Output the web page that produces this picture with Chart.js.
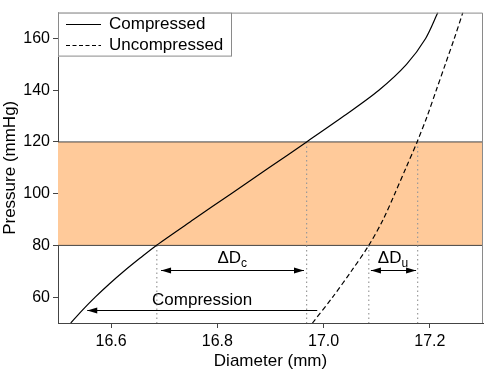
<!DOCTYPE html>
<html>
<head>
<meta charset="utf-8">
<script src="https://cdn.jsdelivr.net/npm/chart.js@4/dist/chart.umd.min.js"></script>
<style>
  html, body { margin: 0; padding: 0; background: #fff; }
  #c { display: block; }
</style>
</head>
<body>
<canvas id="c" width="484" height="374" style="width:484px;height:374px"></canvas>
<script>
// ---- data ----
const compressedP = [50, 55, 60, 65, 70, 75, 80, 90, 100, 110, 120, 130, 140, 150, 160, 170];
const compressedD = [16.524, 16.546, 16.570, 16.596, 16.624, 16.654, 16.685, 16.755, 16.826, 16.897, 16.968, 17.038, 17.104, 17.156, 17.192, 17.215];
const uncompressedP = [50, 60, 70, 80, 90, 100, 110, 120, 130, 140, 150, 160, 170];
const uncompressedD = [16.979, 17.017, 17.052, 17.085, 17.112, 17.134, 17.155, 17.176, 17.195, 17.212, 17.229, 17.246, 17.262];

const xTicks = [16.6, 16.8, 17.0, 17.2];
const yTicks = [60, 80, 100, 120, 140, 160];
const xRange = [16.5, 17.3];
const yRange = [50, 170];

const bandP = [80, 120];                       // normal pressure band
const dropX = [16.686, 16.968, 17.085, 17.177]; // dotted drop lines (diameters)
const dropTop = [80, 120, 80, 120];             // pressure where each drop line starts

// arrows: from diameter, to diameter, pressure, double-headed?
const arrowFrom = [16.694, 17.089, 16.988];
const arrowTo   = [16.963, 17.174, 16.555];
const arrowP    = [70.5, 70.5, 55];
const arrowBoth = [true, true, false];

// labels
const labelMain = ['ΔD', 'ΔD', 'Compression'];
const labelSub  = ['c', 'u', ''];
const labelX    = [16.800, 17.102, 16.677];
const labelP    = [73.1, 73.1, 57.0];

const seriesNames = ['Compressed', 'Uncompressed'];

const FONT = "'Liberation Sans', Arial, Helvetica, sans-serif";
Chart.defaults.font.family = FONT;
Chart.defaults.color = '#000';

const toPts = (xs, ys) => xs.map((x, i) => ({x: x, y: ys[i]}));

const datasets = [
  { label: seriesNames[0], data: toPts(compressedD, compressedP), borderColor: '#000', borderWidth: 1.2, showLine: true, pointRadius: 0, tension: 0.3, fill: false },
  { label: seriesNames[1], data: toPts(uncompressedD, uncompressedP), borderColor: '#000', borderWidth: 1.2, borderDash: [5, 3], showLine: true, pointRadius: 0, tension: 0.3, fill: false },
];
dropX.forEach((x, i) => {
  datasets.push({ label: 'drop', data: [{x: x, y: dropTop[i]}, {x: x, y: yRange[0]}], borderColor: '#9a9a9a', borderWidth: 1.2, borderDash: [1.5, 3], showLine: true, pointRadius: 0, fill: false });
});
datasets.push({ label: 'bandLow', data: [{x: xRange[0], y: bandP[0]}, {x: xRange[1], y: bandP[0]}], borderColor: '#444', borderWidth: 1, showLine: true, pointRadius: 0, fill: false });
datasets.push({ label: 'bandHigh', data: [{x: xRange[0], y: bandP[1]}, {x: xRange[1], y: bandP[1]}], borderColor: '#444', borderWidth: 1, showLine: true, pointRadius: 0, fill: {value: bandP[0]}, backgroundColor: '#FFCA9A' });

const annotPlugin = {
  id: 'annot',
  afterDatasetsDraw(chart) {
    const ctx = chart.ctx;
    const xs = chart.scales.x, ys = chart.scales.y;
    const ca = chart.chartArea;
    ctx.save();
    // frame top/right
    ctx.strokeStyle = '#8a8a8a';
    ctx.lineWidth = 1;
    ctx.beginPath();
    ctx.moveTo(ca.left, ca.top + 0.5);
    ctx.lineTo(ca.right - 0.5, ca.top + 0.5);
    ctx.lineTo(ca.right - 0.5, ca.bottom);
    ctx.stroke();

    // arrows
    ctx.strokeStyle = '#000';
    ctx.fillStyle = '#000';
    ctx.lineWidth = 1;
    const head = (tx, ty, dir) => {
      ctx.beginPath();
      ctx.moveTo(tx, ty);
      ctx.lineTo(tx - dir * 10, ty - 3);
      ctx.lineTo(tx - dir * 10, ty + 3);
      ctx.closePath();
      ctx.fill();
    };
    arrowFrom.forEach((f, i) => {
      const x1 = xs.getPixelForValue(f), x2 = xs.getPixelForValue(arrowTo[i]);
      const y = Math.round(ys.getPixelForValue(arrowP[i])) + 0.5;
      ctx.beginPath();
      ctx.moveTo(x1, y); ctx.lineTo(x2, y); ctx.stroke();
      const dir = Math.sign(x2 - x1);
      head(x2, y, dir);
      if (arrowBoth[i]) head(x1, y, -dir);
    });

    // labels
    ctx.textBaseline = 'alphabetic';
    ctx.textAlign = 'left';
    labelMain.forEach((t, i) => {
      const x = xs.getPixelForValue(labelX[i]);
      const y = ys.getPixelForValue(labelP[i]);
      ctx.font = '17px ' + FONT;
      ctx.fillText(t, x, y);
      if (labelSub[i]) {
        const w = ctx.measureText(t).width;
        ctx.font = '12px ' + FONT;
        ctx.fillText(labelSub[i], x + w, y + 4);
      }
    });

    // legend box
    const lx = ca.left, ly = ca.top, lw = 174, lh = 44;
    ctx.fillStyle = '#fff';
    ctx.fillRect(lx, ly, lw, lh);
    ctx.strokeStyle = '#8a8a8a';
    ctx.lineWidth = 1;
    ctx.strokeRect(lx + 0.5, ly + 0.5, lw - 1, lh - 1);
    ctx.font = '17px ' + FONT;
    ctx.fillStyle = '#000';
    ctx.textBaseline = 'middle';
    chart.data.datasets.slice(0, 2).forEach((ds, i) => {
      const rowY = ly + 11.5 + i * 21;
      ctx.strokeStyle = '#000';
      ctx.lineWidth = 1.2;
      ctx.setLineDash(ds.borderDash ? [4, 2.5] : []);
      ctx.beginPath();
      ctx.moveTo(lx + 8, Math.round(rowY) + 0.5);
      ctx.lineTo(lx + 43, Math.round(rowY) + 0.5);
      ctx.stroke();
      ctx.setLineDash([]);
      ctx.fillText(ds.label, lx + 51, rowY);
    });
    ctx.restore();
  }
};

new Chart(document.getElementById('c'), {
  type: 'scatter',
  data: { datasets: datasets },
  plugins: [annotPlugin],
  options: {
    responsive: false,
    animation: false,
    devicePixelRatio: 1,
    layout: { padding: { top: 2, right: 1, left: 0, bottom: 0 } },
    plugins: {
      legend: { display: false },
      tooltip: { enabled: false },
      filler: { drawTime: 'beforeDatasetsDraw' }
    },
    scales: {
      x: {
        type: 'linear', min: xRange[0], max: xRange[1],
        afterBuildTicks: s => { s.ticks = xTicks.map(v => ({ value: v })); },
        afterFit: s => { s.height = 51; },
        ticks: { callback: v => Number(v).toFixed(1), font: { size: 16 }, color: '#000', padding: 4, maxRotation: 0 },
        grid: { drawOnChartArea: false, drawTicks: true, tickLength: 5, color: '#444' },
        border: { color: '#444', width: 1 },
        title: { display: true, text: 'Diameter (mm)', font: { size: 17 }, color: '#000', padding: { top: 0, bottom: 2 } }
      },
      y: {
        type: 'linear', min: yRange[0], max: yRange[1],
        afterBuildTicks: s => { s.ticks = yTicks.map(v => ({ value: v })); },
        afterFit: s => { s.width = 58; },
        ticks: { font: { size: 16 }, color: '#000', padding: 3 },
        grid: { drawOnChartArea: false, drawTicks: true, tickLength: 5, color: '#444' },
        border: { color: '#444', width: 1 },
        title: { display: true, text: 'Pressure (mmHg)', font: { size: 17 }, color: '#000', padding: { top: 0, bottom: 0 } }
      }
    }
  }
});
</script>
</body>
</html>
